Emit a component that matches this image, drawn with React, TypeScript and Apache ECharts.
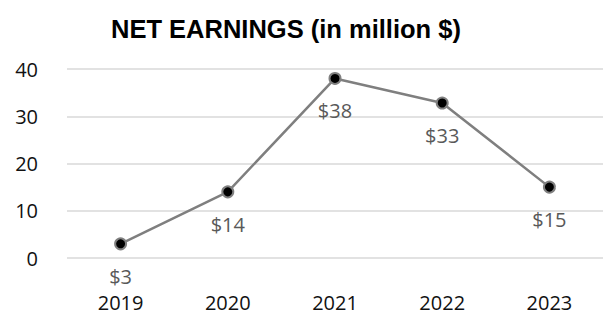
import React, { useEffect, useRef } from "react";
import * as echarts from "echarts";

const years = ["2019", "2020", "2021", "2022", "2023"];
const netEarnings = [3, 14, 38, 32.8, 15];
const yTicks = { min: 0, max: 40, interval: 10 };
const titleText = "NET EARNINGS (in million $)";

export default function App() {
  const ref = useRef<HTMLDivElement>(null);
  useEffect(() => {
    if (!ref.current) return;
    const chart = echarts.init(ref.current, undefined, { renderer: "svg" });
    chart.setOption({
      animation: false,
      backgroundColor: "#ffffff",
      title: {
        text: titleText,
        left: 106,
        top: 11,
        textStyle: {
          fontFamily: "Liberation Sans, Arial, sans-serif",
          fontWeight: "bold",
          fontSize: 25.5,
          color: "#000000",
        },
      },
      grid: { left: 67, right: -4, top: 69, bottom: 56, containLabel: false },
      xAxis: {
        type: "category",
        data: years,
        boundaryGap: true,
        axisLine: { show: false },
        axisTick: { show: false },
        axisLabel: {
          margin: 34,
          fontFamily: "Open Sans, sans-serif",
          fontSize: 20,
          lineHeight: 20,
          color: "#111111",
        },
      },
      yAxis: {
        type: "value",
        min: yTicks.min,
        max: yTicks.max,
        interval: yTicks.interval,
        axisLine: { show: false },
        axisTick: { show: false },
        splitLine: { lineStyle: { color: "#d9d9d9", width: 1.6 } },
        axisLabel: {
          margin: 29,
          fontFamily: "Open Sans, sans-serif",
          fontSize: 20,
          color: "#111111",
        },
      },
      series: [
        {
          type: "line",
          data: netEarnings,
          symbol: "circle",
          symbolSize: 11,
          lineStyle: { color: "#7f7f7f", width: 2.5 },
          itemStyle: { color: "#000000", borderColor: "#808080", borderWidth: 2 },
          label: {
            show: true,
            position: "bottom",
            distance: 17,
            fontFamily: "Open Sans, sans-serif",
            fontSize: 20,
            lineHeight: 18,
            color: "#595959",
            formatter: (p: any) => "$" + Math.round(p.value),
          },
        },
      ],
    });
    return () => chart.dispose();
  }, []);
  return (
    <div
      ref={ref}
      style={{ position: "fixed", left: 0, top: 0, width: 603, height: 314 }}
    />
  );
}
